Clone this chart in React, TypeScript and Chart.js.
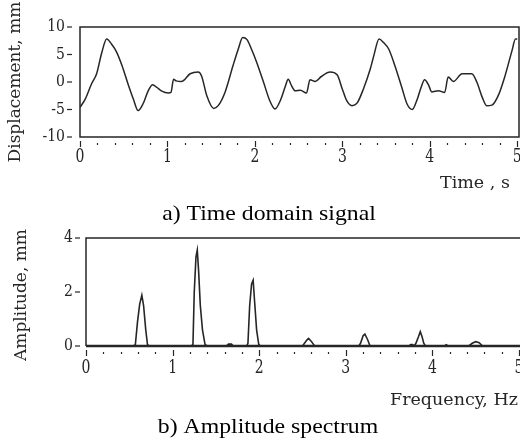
import React, { useEffect, useRef } from "react";
import { Chart, registerables } from "chart.js";

Chart.register(...registerables);

// ---- Data: a) time domain signal ----
const timeS = [
  0.0, 0.06, 0.13, 0.19, 0.25, 0.305, 0.36, 0.42, 0.48, 0.55, 0.61, 0.665, 0.72, 0.78, 0.83, 0.88, 0.93,
  1.01, 1.04, 1.07, 1.1, 1.16, 1.26, 1.35, 1.39, 1.45, 1.53, 1.58, 1.66, 1.75, 1.81, 1.86, 1.91, 1.96,
  2.02, 2.1, 2.17, 2.23, 2.29, 2.35, 2.38, 2.42, 2.46, 2.52, 2.59, 2.63, 2.69, 2.76, 2.86, 2.94,
  3.0, 3.05, 3.11, 3.17, 3.24, 3.32, 3.36, 3.42, 3.47, 3.53, 3.6, 3.68, 3.74, 3.8, 3.85, 3.9, 3.94, 3.99,
  4.02, 4.1, 4.17, 4.21, 4.27, 4.37, 4.48, 4.54, 4.6, 4.65, 4.71, 4.79, 4.86, 4.94, 4.98, 5.0,
];
const dispMm = [
  -4.6, -3.1, -0.4, 1.5, 5.4, 7.8, 6.9, 5.4, 3.0, -0.4, -3.1, -5.2, -4.0, -1.6, -0.5, -1.0, -1.6,
  -2.0, -1.9, 0.5, 0.2, 0.1, 1.5, 1.8, 1.1, -2.5, -4.8, -4.3, -1.8, 3.0, 6.0, 8.1, 7.7, 6.0,
  3.6, -0.1, -3.4, -4.9, -3.4, -0.7, 0.5, -0.7, -1.6, -1.5, -2.0, 0.4, 0.1, 1.0, 1.8, 1.3,
  -1.3, -3.4, -4.3, -3.8, -1.3, 2.4, 4.8, 7.8, 7.2, 6.0, 3.0, -1.0, -4.0, -5.0, -3.4, -1.0, 0.4, -0.7,
  -1.8, -1.6, -1.9, 0.9, 0.1, 1.5, 1.5, -0.1, -2.8, -4.3, -4.2, -2.2, 1.1, 5.7, 7.8, 7.8,
];

// ---- Data: b) amplitude spectrum ----
const specHz = [
  0.0, 0.55, 0.57, 0.595, 0.62, 0.645, 0.665, 0.69, 0.71, 0.73,
  1.215, 1.235, 1.25, 1.27, 1.285, 1.3, 1.32, 1.345, 1.375, 1.405,
  1.62, 1.645, 1.68, 1.7,
  1.855, 1.87, 1.89, 1.912, 1.93, 1.948, 1.97, 1.995, 2.015,
  2.5, 2.55, 2.57, 2.6, 2.64,
  3.15, 3.17, 3.2, 3.22, 3.25, 3.28,
  3.73, 3.75, 3.77, 3.79, 3.81, 3.84, 3.86, 3.88, 3.9, 3.92,
  4.14, 4.16, 4.18,
  4.42, 4.46, 4.5, 4.54, 4.58,
  5.02,
];
const specAmp = [
  0, 0, 0.05, 0.9, 1.55, 1.88, 1.5, 0.6, 0.05, 0,
  0, 0.05, 2.0, 3.3, 3.55, 2.8, 1.5, 0.6, 0.05, 0,
  0, 0.07, 0.07, 0,
  0, 0.1, 1.5, 2.3, 2.44, 1.6, 0.6, 0.05, 0,
  0, 0.22, 0.28, 0.18, 0,
  0, 0.1, 0.38, 0.44, 0.25, 0,
  0, 0.05, 0.05, 0, 0.1, 0.35, 0.53, 0.35, 0.1, 0,
  0, 0.05, 0,
  0, 0.1, 0.16, 0.12, 0,
  0,
];

// ---- Tick labels ----
const xTickValues = [0, 1, 2, 3, 4, 5];
const dispTicks = [-10, -5, 0, 5, 10];
const ampTicks = [0, 2, 4];

const W = 520;
const H = 441;
const SERIF = '"DejaVu Serif", serif';
const TIMES = '"Liberation Serif", "Times New Roman", serif';
const INK = "#262626";

type AxisCfg = {
  yTicks: number[];
  yLabelGap: number;
  xLabelTop: number;
  fullBox: boolean;
  yTitle: string;
  yTitleX: number;
  yTitleY: number;
  xTitle: string;
  xTitleX: number;
  xTitleY: number;
  caption: string;
  captionX: number;
  captionY: number;
};

function makeAxisPlugin(cfg: AxisCfg) {
  return {
    id: "customAxes",
    afterDraw(chart: any) {
      const ctx: CanvasRenderingContext2D = chart.ctx;
      const a = chart.chartArea;
      const xs = chart.scales.x;
      const ys = chart.scales.y;
      ctx.save();
      ctx.strokeStyle = INK;
      ctx.fillStyle = INK;
      ctx.lineWidth = 1.5;
      // frame
      ctx.beginPath();
      if (cfg.fullBox) {
        ctx.rect(a.left, a.top, a.right - a.left, a.bottom - a.top);
      } else {
        ctx.moveTo(W, a.top);
        ctx.lineTo(a.left, a.top);
        ctx.lineTo(a.left, a.bottom);
      }
      ctx.stroke();
      if (!cfg.fullBox) {
        ctx.lineWidth = 2.6;
        ctx.beginPath();
        ctx.moveTo(a.left, ys.getPixelForValue(0));
        ctx.lineTo(W, ys.getPixelForValue(0));
        ctx.stroke();
      }
      // y ticks
      ctx.lineWidth = 1.2;
      ctx.font = `14px ${SERIF}`;
      ctx.textAlign = "right";
      ctx.textBaseline = "middle";
      for (const v of cfg.yTicks) {
        const y = ys.getPixelForValue(v);
        ctx.beginPath();
        ctx.moveTo(a.left - cfg.yLabelGap + 1, y);
        ctx.lineTo(a.left - cfg.yLabelGap + 6, y);
        ctx.stroke();
        ctx.save();
        ctx.translate(a.left - cfg.yLabelGap - 1, y);
        ctx.scale(1, 1.2);
        ctx.fillText(String(v), 0, 0);
        ctx.restore();
      }
      // x ticks (major + minor)
      const base = cfg.fullBox ? a.bottom : ys.getPixelForValue(0);
      for (let i = 0; i <= 25; i++) {
        const x = Math.round(xs.getPixelForValue(i / 5)) + 0.5;
        ctx.beginPath();
        if (i % 5 === 0) {
          ctx.moveTo(x, base + 4);
          ctx.lineTo(x, base + 10);
        } else {
          ctx.moveTo(x, base + 6);
          ctx.lineTo(x, base + 8);
        }
        ctx.stroke();
      }
      ctx.font = `14px ${SERIF}`;
      ctx.textAlign = "center";
      ctx.textBaseline = "top";
      for (const v of xTickValues) {
        const x = xs.getPixelForValue(v);
        ctx.save();
        ctx.translate(x, cfg.xLabelTop);
        ctx.scale(1, 1.35);
        ctx.fillText(String(v), 0, 0);
        ctx.restore();
      }
      // axis titles
      ctx.font = `17.5px ${SERIF}`;
      ctx.textAlign = "left";
      ctx.textBaseline = "alphabetic";
      ctx.fillText(cfg.xTitle, cfg.xTitleX, cfg.xTitleY);
      ctx.save();
      ctx.translate(cfg.yTitleX, cfg.yTitleY);
      ctx.rotate(-Math.PI / 2);
      ctx.textAlign = "center";
      ctx.textBaseline = "middle";
      ctx.font = `17px ${SERIF}`;
      ctx.fillText(cfg.yTitle, 0, 0);
      ctx.restore();
      // caption
      ctx.fillStyle = "#000";
      ctx.font = `22px ${TIMES}`;
      ctx.textAlign = "center";
      ctx.textBaseline = "alphabetic";
      ctx.save();
      ctx.translate(cfg.captionX, cfg.captionY);
      ctx.scale(1.08, 1);
      ctx.fillText(cfg.caption, 0, 0);
      ctx.restore();
      ctx.restore();
    },
  };
}

function useLineChart(
  ref: React.RefObject<HTMLCanvasElement | null>,
  xs: number[],
  ys: number[],
  xMax: number,
  yMin: number,
  yMax: number,
  padding: { left: number; right: number; top: number; bottom: number },
  lineWidth: number,
  smooth: boolean,
  plugin: any
) {
  useEffect(() => {
    if (!ref.current) return;
    const chart = new Chart(ref.current, {
      type: "line",
      data: {
        datasets: [
          {
            data: xs.map((x, i) => ({ x, y: ys[i] })),
            borderColor: INK,
            borderWidth: lineWidth,
            pointRadius: 0,
            fill: false,
            tension: smooth ? 0.4 : 0,
            cubicInterpolationMode: smooth ? "monotone" : "default",
          },
        ],
      },
      options: {
        responsive: false,
        animation: false,
        events: [],
        layout: { padding },
        plugins: { legend: { display: false }, tooltip: { enabled: false } },
        scales: {
          x: { type: "linear", min: 0, max: xMax, display: false },
          y: { type: "linear", min: yMin, max: yMax, display: false },
        },
      },
      plugins: [plugin],
    } as any);
    return () => chart.destroy();
  }, []);
}

export default function App() {
  const refA = useRef<HTMLCanvasElement>(null);
  const refB = useRef<HTMLCanvasElement>(null);

  useLineChart(
    refA,
    timeS,
    dispMm,
    5.02,
    -10,
    10,
    { left: 80, right: 1, top: 27, bottom: H - 137 },
    1.5,
    true,
    makeAxisPlugin({
      yTicks: dispTicks,
      yLabelGap: 14,
      xLabelTop: 148,
      fullBox: true,
      yTitle: "Displacement, mm",
      yTitleX: 16,
      yTitleY: 82,
      xTitle: "Time , s",
      xTitleX: 440,
      xTitleY: 188,
      caption: "a) Time domain signal",
      captionX: 269,
      captionY: 220,
    })
  );

  useLineChart(
    refB,
    specHz,
    specAmp,
    5.0,
    0,
    4,
    { left: 86, right: 1, top: 238, bottom: H - 346 },
    1.6,
    false,
    makeAxisPlugin({
      yTicks: ampTicks,
      yLabelGap: 12,
      xLabelTop: 359,
      fullBox: false,
      yTitle: "Amplitude, mm",
      yTitleX: 22,
      yTitleY: 295,
      xTitle: "Frequency, Hz",
      xTitleX: 390,
      xTitleY: 405,
      caption: "b) Amplitude spectrum",
      captionX: 268,
      captionY: 433,
    })
  );

  return (
    <div
      style={{
        position: "absolute",
        left: 0,
        top: 0,
        width: W,
        height: H,
        background: "#fff",
        overflow: "hidden",
      }}
    >
      <canvas ref={refA} width={W} height={H} style={{ position: "absolute", left: 0, top: 0 }} />
      <canvas ref={refB} width={W} height={H} style={{ position: "absolute", left: 0, top: 0 }} />
    </div>
  );
}
